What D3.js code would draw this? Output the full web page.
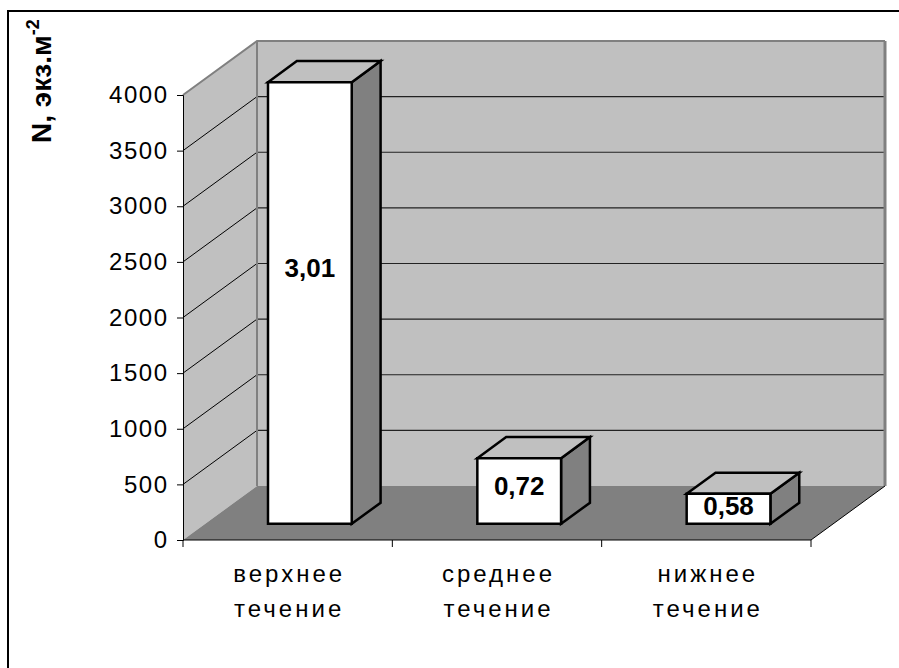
<!DOCTYPE html>
<html>
<head>
<meta charset="utf-8">
<script src="https://cdn.jsdelivr.net/npm/d3@7"></script>
<style>
  html, body { margin: 0; padding: 0; background: #fff; }
  svg { display: block; font-family: Arial, "Liberation Sans", sans-serif; }
</style>
</head>
<body>
<svg id="chart" width="899" height="668"></svg>
<script>
// Reach categories (two-line labels)
const categories = ["верхнее течение", "среднее течение", "нижнее течение"];
// Abundance, ind. per m²
const abundance = [3970, 590, 270];
// Values printed on the bar fronts
const barLabels = ["3,01", "0,72", "0,58"];
// Vertical axis ticks
const yTicks = [0, 500, 1000, 1500, 2000, 2500, 3000, 3500, 4000];

const svg = d3.select("#chart");

// Plot frame and oblique projection of the depth axis
const plot = { left: 183, right: 811, bottom: 540, top: 95 };
const DEPTH_X = 74, DEPTH_Y = 54;
const barFront = 0.30, barBack = 0.69;
const proj = (x, y, z) => [x + z * DEPTH_X, y - z * DEPTH_Y];

const x = d3.scaleBand()
  .domain(categories)
  .range([plot.left, plot.right])
  .paddingInner(0.6)
  .paddingOuter(0.3);

const y = d3.scaleLinear()
  .domain([0, 4000])
  .range([plot.bottom, plot.top]);

const line = d3.line();

// Outer chart border
svg.append("rect")
  .attr("x", 8).attr("y", 11)
  .attr("width", 905).attr("height", 680)
  .attr("fill", "#fff")
  .attr("stroke", "#000").attr("stroke-width", 2);

const y0 = y(0), yMax = y(4000);

// Side wall
svg.append("path")
  .attr("d", line([[plot.left, yMax], proj(plot.left, yMax, 1), proj(plot.left, y0, 1), [plot.left, y0]]) + "Z")
  .attr("fill", "#c0c0c0");

// Back wall
const backTL = proj(plot.left, yMax, 1);
const backBR = proj(plot.right, y0, 1);
svg.append("rect")
  .attr("x", backTL[0]).attr("y", backTL[1])
  .attr("width", backBR[0] - backTL[0]).attr("height", backBR[1] - backTL[1])
  .attr("fill", "#c0c0c0");

// Floor
svg.append("path")
  .attr("d", line([[plot.left, y0], proj(plot.left, y0, 1), proj(plot.right, y0, 1), [plot.right, y0]]) + "Z")
  .attr("fill", "#808080");

// Gridlines on back and side walls
const grid = svg.append("g");
yTicks.filter(t => t > 0 && t < 4000).forEach(t => {
  grid.append("path")
    .attr("d", line([proj(plot.left, y(t), 1), proj(plot.right, y(t), 1)]))
    .attr("stroke", "#222").attr("stroke-width", 1.2).attr("fill", "none");
  grid.append("path")
    .attr("d", line([[plot.left, y(t)], proj(plot.left, y(t), 1)]))
    .attr("stroke", "#000").attr("stroke-width", 1).attr("fill", "none");
});

// Wall edges
svg.append("path")
  .attr("d", line([[plot.left, yMax], proj(plot.left, yMax, 1), proj(plot.right, yMax, 1)]))
  .attr("stroke", "#808080").attr("stroke-width", 2).attr("fill", "none");
svg.append("path")
  .attr("d", line([proj(plot.left, yMax, 1), proj(plot.left, y0, 1)]))
  .attr("stroke", "#808080").attr("stroke-width", 2).attr("fill", "none");
svg.append("path")
  .attr("d", line([proj(plot.right, yMax, 1), proj(plot.right, y0, 1)]))
  .attr("stroke", "#808080").attr("stroke-width", 3).attr("fill", "none");
svg.append("path")
  .attr("d", line([[plot.right, y0], proj(plot.right, y0, 1)]))
  .attr("stroke", "#000").attr("stroke-width", 1).attr("fill", "none");

// Value axis
const yAxis = svg.append("g")
  .attr("transform", `translate(${plot.left},0)`)
  .call(d3.axisLeft(y).tickValues(yTicks).tickSize(6).tickPadding(10).tickFormat(d3.format("d")));
yAxis.select(".domain").attr("stroke", "#000").attr("stroke-width", 1);
yAxis.selectAll(".tick line").attr("stroke", "#000");
yAxis.selectAll("text")
  .attr("font-size", 24).attr("letter-spacing", 1.5).attr("fill", "#000")
  .attr("dx", 1.5)
  .attr("font-family", 'Arial, "Liberation Sans", sans-serif');

// Category axis: line plus ticks at category boundaries
const xAxis = svg.append("g");
xAxis.append("path")
  .attr("d", line([[plot.left, y0], [plot.right, y0]]))
  .attr("stroke", "#000").attr("stroke-width", 1).attr("fill", "none");
d3.range(categories.length + 1).forEach(i => {
  const bx = x.range()[0] + i * x.step();
  xAxis.append("path")
    .attr("d", line([[bx, y0], [bx, y0 + 7]]))
    .attr("stroke", "#000").attr("stroke-width", 1);
});
categories.forEach(c => {
  const cx = x(c) + x.bandwidth() / 2 + 1.5;
  const t = xAxis.append("text")
    .attr("x", cx).attr("y", y0 + 42)
    .attr("text-anchor", "middle")
    .attr("font-size", 24)
    .attr("letter-spacing", 3)
    .attr("fill", "#000");
  c.split(" ").forEach((w, i) => {
    t.append("tspan").attr("x", cx).attr("dy", i === 0 ? 0 : 35).text(w);
  });
});

// 3D bars
const bars = svg.append("g");
categories.forEach((c, i) => {
  const v = abundance[i];
  const xl = x(c), xr = x(c) + x.bandwidth();
  const fTL = proj(xl, y(v), barFront), fTR = proj(xr, y(v), barFront);
  const fBL = proj(xl, y0, barFront), fBR = proj(xr, y0, barFront);
  const bTL = proj(xl, y(v), barBack), bTR = proj(xr, y(v), barBack);
  const bBR = proj(xr, y0, barBack);
  const style = s => s.attr("stroke", "#000").attr("stroke-width", 2.5).attr("stroke-linejoin", "miter");
  bars.append("path").attr("d", line([fTR, bTR, bBR, fBR]) + "Z").attr("fill", "#808080").call(style);
  bars.append("path").attr("d", line([fTL, bTL, bTR, fTR]) + "Z").attr("fill", "#c0c0c0").call(style);
  bars.append("path").attr("d", line([fTL, fTR, fBR, fBL]) + "Z").attr("fill", "#fff").call(style);

  const lp = proj((xl + xr) / 2, y(v * 0.58), barFront);
  bars.append("text")
    .attr("x", lp[0]).attr("y", lp[1])
    .attr("text-anchor", "middle")
    .attr("dominant-baseline", "central")
    .attr("font-size", 26).attr("font-weight", "bold")
    .attr("fill", "#000")
    .text(barLabels[i]);
});

// Axis title
const title = svg.append("text")
  .attr("transform", "translate(51,143) rotate(-90)")
  .attr("font-size", 28).attr("font-weight", "bold").attr("fill", "#000");
title.append("tspan").text("N, экз.м");
title.append("tspan").attr("font-size", 18).attr("dy", -12).text("-2");
</script>
</body>
</html>
